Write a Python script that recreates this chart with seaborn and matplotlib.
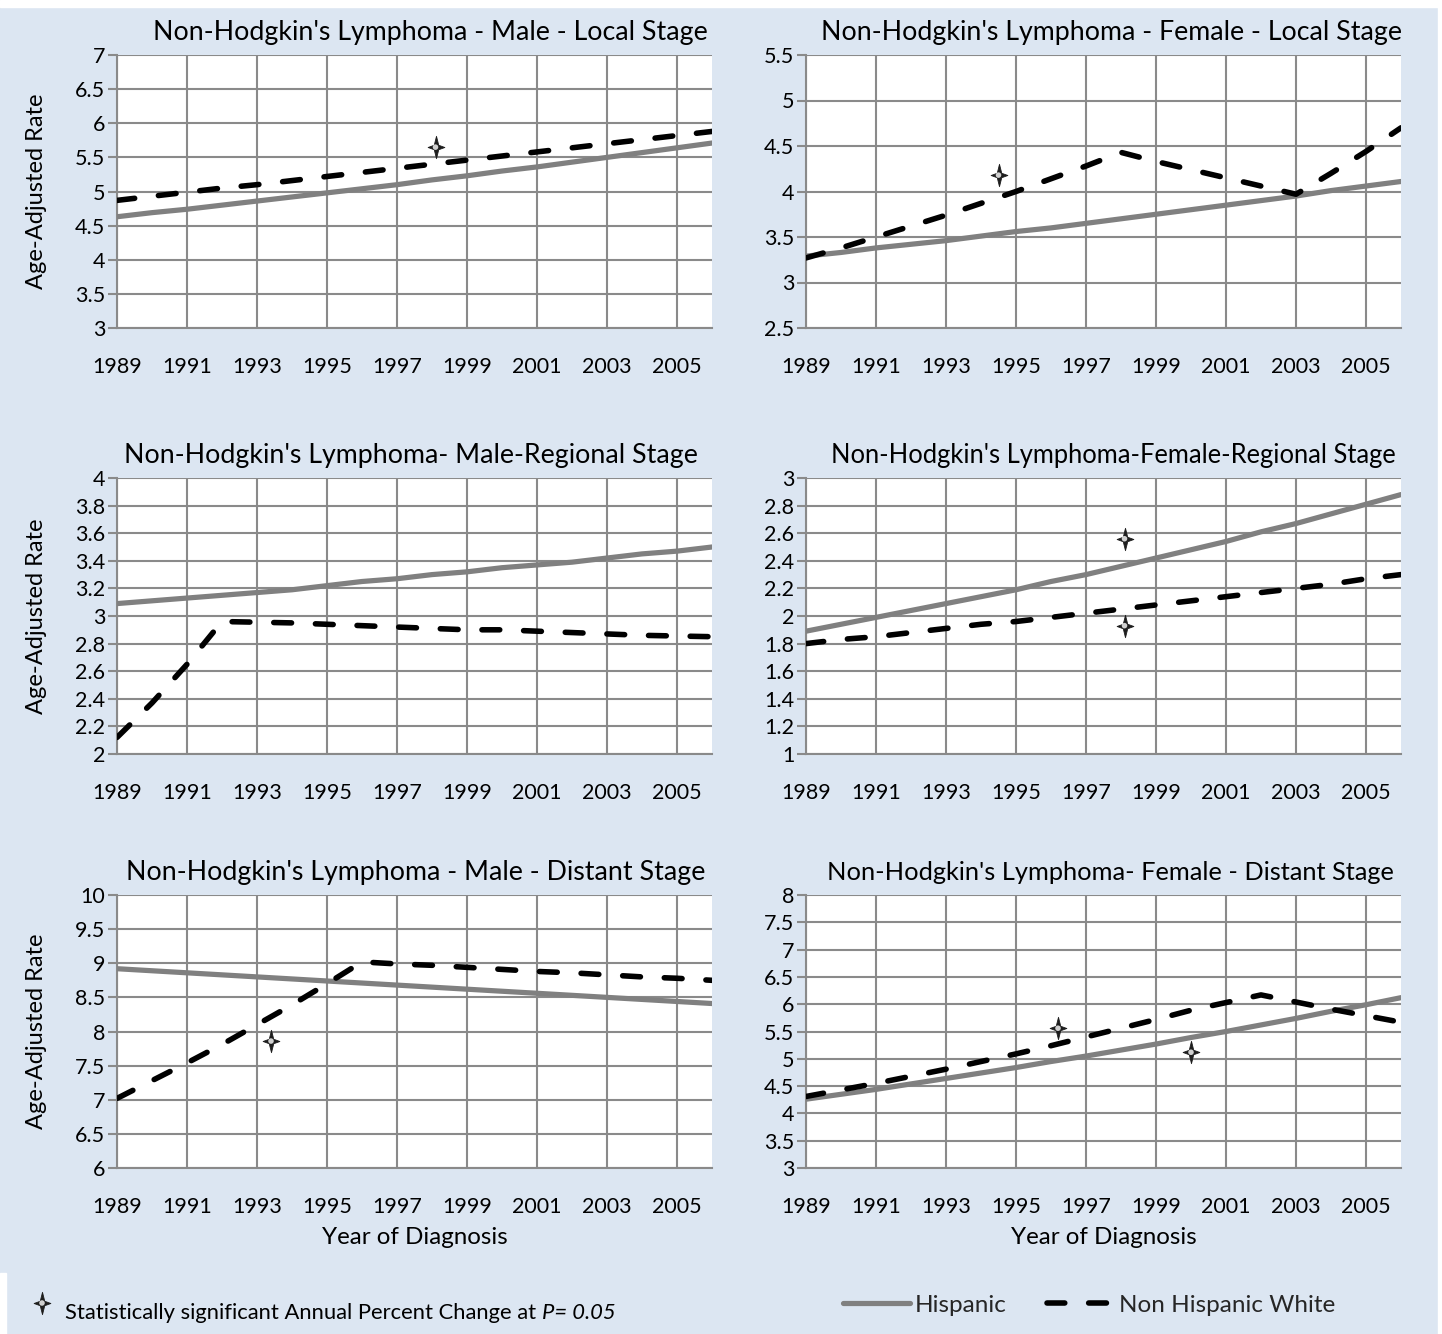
import matplotlib
matplotlib.use("Agg")
import matplotlib.pyplot as plt
from matplotlib.path import Path
from matplotlib.lines import Line2D
from matplotlib.patches import Rectangle
import numpy as np
import pandas as pd
import seaborn as sns

# ---------------- data ----------------
years = list(range(1989, 2007))
year_ticks = list(range(1989, 2006, 2))

titles = [
    "Non-Hodgkin's Lymphoma - Male - Local Stage",
    "Non-Hodgkin's Lymphoma - Female - Local Stage",
    "Non-Hodgkin's Lymphoma- Male-Regional Stage",
    "Non-Hodgkin's Lymphoma-Female-Regional Stage",
    "Non-Hodgkin's Lymphoma - Male - Distant Stage",
    "Non-Hodgkin's Lymphoma- Female - Distant Stage",
]

male_local_hisp = [4.63, 4.69, 4.74, 4.80, 4.86, 4.92, 4.98, 5.04, 5.10,
                   5.17, 5.23, 5.30, 5.36, 5.43, 5.50, 5.57, 5.64, 5.71]
male_local_nhw = [4.87, 4.93, 4.99, 5.05, 5.10, 5.16, 5.22, 5.28, 5.34,
                  5.40, 5.46, 5.52, 5.58, 5.64, 5.70, 5.76, 5.82, 5.88]

female_local_hisp = [3.29, 3.33, 3.38, 3.42, 3.46, 3.51, 3.56, 3.60, 3.65,
                     3.70, 3.75, 3.80, 3.85, 3.90, 3.95, 4.01, 4.06, 4.11]
female_local_nhw = [3.27, 3.38, 3.50, 3.62, 3.74, 3.87, 4.00, 4.14, 4.28,
                    4.43, 4.33, 4.24, 4.15, 4.06, 3.97, 4.20, 4.44, 4.70]

male_regional_hisp = [3.09, 3.11, 3.13, 3.15, 3.17, 3.19, 3.22, 3.25, 3.27,
                      3.30, 3.32, 3.35, 3.37, 3.39, 3.42, 3.45, 3.47, 3.50]
male_regional_nhw = [2.12, 2.37, 2.65, 2.96, 2.955, 2.95, 2.94, 2.93, 2.92,
                     2.91, 2.90, 2.90, 2.89, 2.88, 2.87, 2.86, 2.855, 2.85]

female_regional_hisp = [1.89, 1.94, 1.99, 2.04, 2.09, 2.14, 2.19, 2.25, 2.30,
                        2.36, 2.42, 2.48, 2.54, 2.61, 2.67, 2.74, 2.81, 2.88]
female_regional_nhw = [1.80, 1.83, 1.85, 1.88, 1.91, 1.94, 1.96, 1.99, 2.02,
                       2.05, 2.08, 2.11, 2.14, 2.17, 2.20, 2.23, 2.27, 2.30]

male_distant_hisp = [8.92, 8.89, 8.86, 8.83, 8.80, 8.77, 8.74, 8.71, 8.68,
                     8.65, 8.62, 8.59, 8.56, 8.53, 8.50, 8.47, 8.44, 8.41]
male_distant_nhw = [7.02, 7.28, 7.54, 7.81, 8.10, 8.39, 8.70, 9.02, 8.99,
                    8.97, 8.94, 8.91, 8.88, 8.86, 8.83, 8.80, 8.78, 8.75]

female_distant_hisp = [4.26, 4.35, 4.44, 4.54, 4.64, 4.74, 4.84, 4.95, 5.05,
                       5.16, 5.27, 5.39, 5.50, 5.62, 5.74, 5.87, 5.99, 6.12]
female_distant_nhw = [4.31, 4.43, 4.55, 4.68, 4.81, 4.95, 5.09, 5.24, 5.40,
                      5.56, 5.72, 5.89, 6.03, 6.17, 6.04, 5.91, 5.79, 5.67]

# significant APC markers: (year, rate) per panel
sig_years = [[1998.1], [1994.5], [], [1998.1, 1998.1], [1993.4], [1996.2, 2000.0]]
sig_rates = [[5.65], [4.18], [], [2.56, 1.93], [7.86], [5.56, 5.12]]

y_limits = [(3, 7), (2.5, 5.5), (2, 4), (1, 3), (6, 10), (3, 8)]
y_steps = [0.5, 0.5, 0.2, 0.2, 0.5, 0.5]

hisp_series = [male_local_hisp, female_local_hisp, male_regional_hisp,
               female_regional_hisp, male_distant_hisp, female_distant_hisp]
nhw_series = [male_local_nhw, female_local_nhw, male_regional_nhw,
              female_regional_nhw, male_distant_nhw, female_distant_nhw]

# ---------------- style ----------------
sns.set_theme(style="white")
plt.rcParams["font.family"] = ["Lato", "DejaVu Sans"]

BG = "#dce6f2"
GRID = "#8a8a8a"
HISP = "#808080"
NHW = "black"
DASH = (3.2, 4.3)

W, H = 1442, 1334
fig = plt.figure(figsize=(W / 100, H / 100), dpi=100, facecolor=BG)

# white frame strips around the blue background
for (x0, y0, w, h) in [(0, 0, W, 7), (W - 4, 0, 4, H), (0, 1273, 6, H - 1273)]:
    fig.patches.append(Rectangle((x0 / W, 1 - (y0 + h) / H), w / W, h / H,
                                 transform=fig.transFigure, color="white",
                                 zorder=0))

col_left = [117, 806]
plot_w = 595
row_top = [55, 478, 895]
row_bot = [328, 754, 1168]
title_x = [0.526, 0.513, 0.494, 0.516, 0.502, 0.511]
title_size = [19.3, 19.3, 19.3, 18.4, 19.3, 18.3]

# significance marker: a four-pointed star, taller than wide
star = Path([(0, 1), (0.2, 0.2), (0.75, 0), (0.2, -0.2), (0, -1),
             (-0.2, -0.2), (-0.75, 0), (-0.2, 0.2), (0, 1)],
            [Path.MOVETO] + [Path.LINETO] * 7 + [Path.CLOSEPOLY])
STAR_S = 260
DOT_S = 16

for i in range(6):
    r, c = divmod(i, 2)
    left = col_left[c] / W
    bottom = 1 - row_bot[r] / H
    height = (row_bot[r] - row_top[r]) / H
    ax = fig.add_axes([left, bottom, plot_w / W, height])
    ax.set_facecolor("white")

    df = pd.DataFrame({"Year": years, "Hispanic": hisp_series[i],
                       "Non Hispanic White": nhw_series[i]})
    sns.lineplot(data=df, x="Year", y="Hispanic", ax=ax, color=HISP,
                 linewidth=3.75, solid_capstyle="round", zorder=3)
    sns.lineplot(data=df, x="Year", y="Non Hispanic White", ax=ax,
                 color=NHW, linewidth=4, zorder=4)
    ax.lines[-1].set_dashes(DASH)
    ax.lines[-1].set_dash_capstyle("round")

    if sig_years[i]:
        sdf = pd.DataFrame({"Year": sig_years[i], "Rate": sig_rates[i]})
        sns.scatterplot(data=sdf, x="Year", y="Rate", ax=ax, marker=star,
                        s=STAR_S, color="#1e1e1e", edgecolor="#1e1e1e",
                        linewidth=0.6, zorder=6)
        sns.scatterplot(data=sdf, x="Year", y="Rate", ax=ax, marker="o",
                        s=DOT_S, color="#d0d0d0", edgecolor="none", zorder=7)

    lo, hi = y_limits[i]
    ax.set_xlim(1989, 2006)
    ax.set_ylim(lo, hi)
    ax.set_xticks(year_ticks)
    ax.set_xticklabels([str(y) for y in year_ticks])
    yt = np.round(np.arange(lo, hi + 1e-9, y_steps[i]), 2)
    ax.set_yticks(yt)
    ax.set_yticklabels([f"{v:g}" for v in yt])

    ax.grid(True, color=GRID, linewidth=1.5)
    ax.set_axisbelow(True)
    for side in ["top", "right"]:
        ax.spines[side].set_visible(False)
    for side in ["left", "bottom"]:
        ax.spines[side].set_color(GRID)
        ax.spines[side].set_linewidth(1.5)

    ax.tick_params(axis="x", length=0, pad=21, labelsize=15.5, colors="black")
    ax.tick_params(axis="y", direction="out", length=6.5, width=1.5,
                   color=GRID, pad=2, labelsize=15.5, labelcolor="black")
    ax.tick_params(axis="y", which="both", left=True)

    ax.set_title(titles[i], fontsize=title_size[i], x=title_x[i], pad=11,
                 color="black")

    ax.set_xlabel("Year of Diagnosis" if r == 2 else "", fontsize=17.4,
                  labelpad=7, color="black")
    if c == 0:
        ax.set_ylabel("Age-Adjusted Rate", fontsize=17, labelpad=20,
                      color="black")
    else:
        ax.set_ylabel("")

# ---------------- footer key ----------------
key_ax = fig.add_axes([0, 0, 1, 1 - 1273 / H])
key_ax.set_axis_off()
key_ax.set_xlim(0, 1)
key_ax.set_ylim(0, 1)
key_ax.scatter([42 / W], [(1334 - 1303) / (1334 - 1273)], marker=star,
               s=STAR_S, color="#1e1e1e", linewidths=0.6, edgecolors="#1e1e1e")
key_ax.scatter([42 / W], [(1334 - 1303) / (1334 - 1273)], marker="o",
               s=DOT_S, color="#d0d0d0", edgecolors="none")
note = fig.text(65 / W, 1 - 1319 / H,
                "Statistically significant Annual Percent Change at ",
                fontsize=15.8, va="baseline", ha="left", color="black")
pval = fig.text(0, 1 - 1319 / H, "P= 0.05", fontsize=15.8, style="italic",
                color="black", ha="left", va="baseline")
# place the italic part right after the upright sentence
fig.canvas.draw()
bb = note.get_window_extent()
pval.set_x(bb.x1 / W)

handles = [
    Line2D([], [], color=HISP, linewidth=3.75),
    Line2D([], [], color=NHW, linewidth=4, dashes=DASH,
           dash_capstyle="round"),
]
fig.legend(handles, ["Hispanic", "Non Hispanic White"], loc="center left",
           bbox_to_anchor=(843 / W, 1 - 1305 / H), ncol=2, frameon=False,
           fontsize=17.5, handlelength=2.76, handletextpad=0.2,
           columnspacing=1.65, borderpad=0, borderaxespad=0)

fig.savefig("out.png", dpi=100, facecolor=BG)
